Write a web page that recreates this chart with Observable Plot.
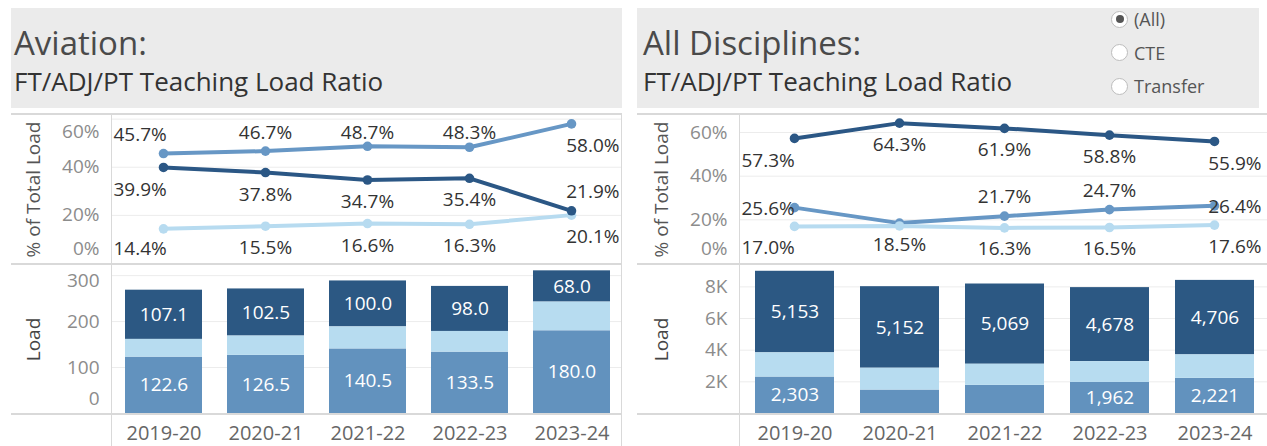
<!DOCTYPE html>
<html><head><meta charset="utf-8">
<script src="https://cdn.jsdelivr.net/npm/d3@7"></script>
<script src="https://cdn.jsdelivr.net/npm/@observablehq/plot@0.6"></script>
<style>
html,body{margin:0;padding:0}
body{width:1267px;height:446px;overflow:hidden;background:#fff;font-family:"Open Sans",sans-serif;position:relative}
.hdr{position:absolute;top:8px;height:100px;background:#ebebeb}
.t1{position:absolute;font-size:33px;color:#4a4a4a;top:18px;line-height:1;white-space:nowrap}
.t2{position:absolute;font-size:26px;color:#333;top:60px;line-height:1;white-space:nowrap}
.abs{position:absolute}
.hr{position:absolute;height:0;border-top:2px solid #d9d9d9}
.vr{position:absolute;width:0;border-left:1.5px solid #d9d9d9}
.radio{position:absolute;left:1111px;font-size:18px;color:#555;line-height:1;white-space:nowrap}
.radio span.c{display:inline-block;width:15px;height:15px;border:1.5px solid #bdbdbd;border-radius:50%;background:#fff;vertical-align:middle;margin-right:6px;position:relative;top:-2px}
.radio span.c.on::after{content:"";position:absolute;left:3.5px;top:3.5px;width:8px;height:8px;border-radius:50%;background:#555}
</style></head><body>
<script>
// ---------- data ----------
const years = ["2019-20", "2020-21", "2021-22", "2022-23", "2023-24"];
const series = ["FT", "ADJ", "PT"];

// Aviation
const aviationLoadFT  = [107.1, 102.5, 100.0, 98.0, 68.0];
const aviationLoadADJ = [122.6, 126.5, 140.5, 133.5, 180.0];
const aviationLoadPT  = [38.6, 42.0, 47.9, 45.0, 62.4];
const aviationShareFT  = [39.9, 37.8, 34.7, 35.4, 21.9];
const aviationShareADJ = [45.7, 46.7, 48.7, 48.3, 58.0];
const aviationSharePT  = [14.4, 15.5, 16.6, 16.3, 20.1];
const aviationLoadTicks = [0, 100, 200, 300];

// All Disciplines
const allLoadFT  = [5153, 5152, 5069, 4678, 4706];
const allLoadADJ = [2303, 1482, 1777, 1962, 2221];
const allLoadPT  = [1529, 1378, 1335, 1313, 1482];
const allShareFT  = [57.3, 64.3, 61.9, 58.8, 55.9];
const allShareADJ = [25.6, 18.5, 21.7, 24.7, 26.4];
const allSharePT  = [17.0, 17.2, 16.3, 16.5, 17.6];
const allLoadTicks = [2000, 4000, 6000, 8000];

const shareTicks = [0, 20, 40, 60];
const radioOptions = ["(All)", "CTE", "Transfer"];
const titles = ["Aviation:", "All Disciplines:"];
const subtitle = "FT/ADJ/PT Teaching Load Ratio";

// ---------- styling / layout ----------
const FONT = '"Open Sans", sans-serif';
const lineColors = {FT: "#2b5785", ADJ: "#6797c5", PT: "#b7dbf0"};
const barColors  = {FT: "#2c5883", ADJ: "#6292be", PT: "#b7dcf0"};
const stackOrder = ["ADJ", "PT", "FT"];
const lineDrawOrder = ["ADJ", "PT", "FT"];
// label placement (a = above, b = below, c = centred, "" = hidden)
const aviationPlacement = {FT: ["b","b","b","b","a"], ADJ: ["a","a","a","a","b"], PT: ["b","b","b","b","b"]};
const allPlacement      = {FT: ["b","b","b","b","b"], ADJ: ["c","b","a","a","c"], PT: ["b","","b","b","b"]};

function el(tag, cls, style, text) {
  const e = document.createElement(tag);
  if (cls) e.className = cls;
  Object.assign(e.style, style || {});
  if (text != null) e.textContent = text;
  document.body.appendChild(e);
  return e;
}

function buildPanel(cfg) {
  const {svgLeft, svgWidth, frameLeft, frameRight, hdrLeft, hdrRight, title,
         share, load, shareMax, loadMax, loadTicks, loadTickFmt, valueFmt, placement, lastDx} = cfg;
  const mL = frameLeft - svgLeft, mR = svgLeft + svgWidth - frameRight;

  // header
  const h = el("div", "hdr", {left: hdrLeft + "px", width: (hdrRight - hdrLeft) + "px"});
  const t1 = document.createElement("div"); t1.className = "t1"; t1.style.left = cfg.titleDx + "px"; t1.textContent = title; h.appendChild(t1);
  const t2 = document.createElement("div"); t2.className = "t2"; t2.style.left = cfg.titleDx + "px"; t2.textContent = subtitle; h.appendChild(t2);

  // ---- line chart ----
  const lineTop = 114, lineH = 150, lmT = 1, lmB = 1;
  const ppu = (lineH - lmT - lmB) / shareMax;
  const lineRows = [];
  for (const s of lineDrawOrder) years.forEach((y, i) => lineRows.push({year: y, i, series: s, value: share[s][i]}));
  const labY = (v, code) => {
    if (code === "a") return Math.min(v + 19 / ppu, shareMax - 17 / ppu);
    if (code === "b") return Math.max(v - 22 / ppu, 15 / ppu);
    return v - 1 / ppu;
  };
  const labRows = lineRows.filter(d => placement[d.series][d.i] !== "")
    .map(d => ({...d, ly: labY(d.value, placement[d.series][d.i]), label: d.value.toFixed(1) + "%"}));
  const tickClampL = v => Math.max(Math.min(v, shareMax - 16 / ppu), 15 / ppu);

  const linePlot = Plot.plot({
    width: svgWidth, height: lineH, marginLeft: mL, marginRight: mR, marginTop: lmT, marginBottom: lmB,
    x: {type: "point", domain: years, padding: 0.5, axis: null},
    y: {domain: [0, shareMax], axis: null},
    color: {domain: series, range: series.map(s => lineColors[s])},
    style: {fontFamily: FONT, fontSize: "19px", overflow: "visible", background: "transparent"},
    marks: [
      Plot.ruleY(shareTicks.filter(d => d > 0), {y: d => d, stroke: "#ececec", strokeWidth: 1}),
      Plot.line(lineRows, {x: "year", y: "value", z: "series", stroke: "series", strokeWidth: 4}),
      Plot.dot(lineRows, {x: "year", y: "value", fill: "series", r: 4.8}),
      Plot.text(shareTicks, {y: tickClampL, text: d => d + "%", frameAnchor: "left", textAnchor: "end", dx: -13, fill: "#8c8c8c"}),
      Plot.text(["% of Total Load"], {text: d => d, frameAnchor: "left", textAnchor: "middle", rotate: -90, dx: -79, fill: "#555"}),
      Plot.text(labRows.filter(d => d.i === 0), {y: "ly", text: "label", frameAnchor: "left", textAnchor: "start", dx: 1, fill: "#333"}),
      Plot.text(labRows.filter(d => d.i > 0 && d.i < years.length - 1), {x: "year", y: "ly", text: "label", fill: "#333"}),
      Plot.text(labRows.filter(d => d.i === years.length - 1), {y: "ly", text: "label", frameAnchor: "right", textAnchor: "end", dx: lastDx, fill: "#333"})
    ]
  });
  linePlot.style.position = "absolute"; linePlot.style.left = svgLeft + "px"; linePlot.style.top = lineTop + "px";
  document.body.appendChild(linePlot);

  // ---- bar chart ----
  const barTop = 264, barH = 182, bmT = 1, bmB = 33;
  const ppuB = (barH - bmT - bmB) / loadMax;
  const barRows = [];
  for (const s of series) years.forEach((y, i) => barRows.push({year: y, series: s, value: load[s][i]}));
  const tickClampB = v => Math.max(Math.min(v, loadMax - 15.5 / ppuB), 15 / ppuB);

  const barPlot = Plot.plot({
    width: svgWidth, height: barH, marginLeft: mL, marginRight: mR, marginTop: bmT, marginBottom: bmB,
    x: {type: "band", domain: years, paddingInner: 0.25, paddingOuter: 0.125, label: null},
    y: {domain: [0, loadMax], axis: null},
    color: {domain: series, range: series.map(s => barColors[s])},
    style: {fontFamily: FONT, fontSize: "19px", overflow: "visible", background: "transparent", color: "#666"},
    marks: [
      Plot.ruleY(loadTicks.filter(d => d > 0), {y: d => d, stroke: "#ececec", strokeWidth: 1}),
      Plot.barY(barRows, {x: "year", y: "value", fill: "series", order: stackOrder}),
      Plot.text(barRows, Plot.stackY({x: "year", y: "value", z: "series", order: stackOrder,
        text: d => (d.series === "PT" || d.value * ppuB < 30) ? "" : valueFmt(d.value), fill: "white"})),
      Plot.axisX({tickSize: 0, tickPadding: 12, label: null, fontSize: 20}),
      Plot.text(loadTicks, {y: tickClampB, text: loadTickFmt, frameAnchor: "left", textAnchor: "end", dx: -13, fill: "#8c8c8c"}),
      Plot.text(["Load"], {text: d => d, frameAnchor: "left", textAnchor: "middle", rotate: -90, dx: -79, fill: "#444"})
    ]
  });
  barPlot.style.position = "absolute"; barPlot.style.left = svgLeft + "px"; barPlot.style.top = barTop + "px";
  document.body.appendChild(barPlot);

  // frame rules
  for (const y of [114, 264, 414]) el("div", "hr", {left: hdrLeft + "px", top: (y - 1) + "px", width: (frameRight - hdrLeft) + "px"});
  el("div", "vr", {left: (frameLeft - 1) + "px", top: "114px", height: "332px"});
  if (frameRight < 1267) el("div", "vr", {left: (frameRight - 1) + "px", top: "114px", height: "332px"});
}

buildPanel({
  svgLeft: 0, svgWidth: 630, frameLeft: 112, frameRight: 622, hdrLeft: 11, hdrRight: 622, titleDx: 3,
  title: titles[0],
  share: {FT: aviationShareFT, ADJ: aviationShareADJ, PT: aviationSharePT},
  load: {FT: aviationLoadFT, ADJ: aviationLoadADJ, PT: aviationLoadPT},
  shareMax: 61.5, loadMax: 322, loadTicks: aviationLoadTicks, loadTickFmt: d => String(d),
  valueFmt: d => d.toFixed(1), placement: aviationPlacement, lastDx: -3
});
buildPanel({
  svgLeft: 630, svgWidth: 640, frameLeft: 740, frameRight: 1268, hdrLeft: 637, hdrRight: 1259, titleDx: 6,
  title: titles[1],
  share: {FT: allShareFT, ADJ: allShareADJ, PT: allSharePT},
  load: {FT: allLoadFT, ADJ: allLoadADJ, PT: allLoadPT},
  shareMax: 67.8, loadMax: 9350, loadTicks: allLoadTicks, loadTickFmt: d => (d / 1000) + "K",
  valueFmt: d3.format(","), placement: allPlacement, lastDx: -7
});

// radio buttons
radioOptions.forEach((o, i) => {
  const r = el("div", "radio", {top: (10 + i * 33.5) + "px"});
  const c = document.createElement("span"); c.className = "c" + (i === 0 ? " on" : ""); r.appendChild(c);
  r.appendChild(document.createTextNode(o));
});
</script>
</body></html>
